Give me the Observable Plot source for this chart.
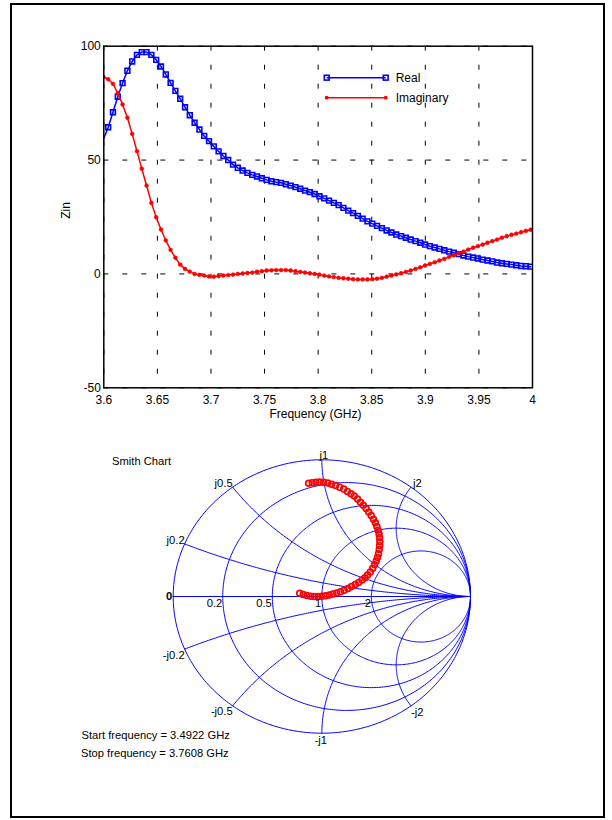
<!DOCTYPE html>
<html>
<head>
<meta charset="utf-8">
<script src="https://cdn.jsdelivr.net/npm/d3@7"></script>
<script src="https://cdn.jsdelivr.net/npm/@observablehq/plot@0.6"></script>
<style>
html, body { margin: 0; padding: 0; background: #fff; }
#page { position: relative; width: 612px; height: 820px; font-family: "Liberation Sans", Arial, sans-serif; overflow: hidden; }
#border { position: absolute; left: 10px; top: 3px; width: 591px; height: 811px; border: 2px solid #000; box-sizing: content-box; }
.layer { position: absolute; left: 0; }
</style>
</head>
<body>
<div id="page"><div id="border"></div></div>
<script>
// ---------------- DATA ----------------
// Frequency sweep (GHz): uniform instrument sweep
const sweepStart = 3.5996;
const sweepStep = 0.00448;

// Zin real part (ohm)
const realZ = [59.0, 64.4, 71.0, 77.8, 83.8, 89.2, 93.3, 96.2, 97.4, 97.4, 96.2, 94.0, 91.1, 87.6, 83.9, 80.4, 76.9, 73.2, 69.7, 66.4,
  63.4, 60.6, 58.3, 56.0, 53.8, 51.8, 50.0, 48.0, 46.6, 45.4, 44.4, 43.5, 42.8, 42.0, 41.3, 40.7, 40.3, 40.0, 39.4, 38.8,
  38.1, 37.4, 36.6, 35.9, 35.1, 34.1, 33.2, 32.2, 31.2, 30.2, 29.0, 27.8, 26.7, 25.5, 24.3, 23.1, 22.1, 21.1, 20.1, 19.1,
  18.2, 17.3, 16.6, 15.9, 15.1, 14.4, 13.7, 12.9, 12.2, 11.6, 11.0, 10.4, 9.8, 9.3, 8.7, 8.1, 7.6, 7.2, 6.8, 6.3,
  5.9, 5.5, 5.0, 4.7, 4.4, 4.1, 3.8, 3.5, 3.4, 3.2];

// Zin imaginary part (ohm)
const imagZ = [86.6, 85.5, 83.5, 79.4, 74.4, 68.6, 61.5, 53.9, 46.2, 38.8, 31.2, 24.9, 19.5, 14.7, 10.6, 7.1, 4.1, 2.2, 1.0, 0.0,
  -0.4, -0.7, -1.1, -1.2, -0.9, -0.7, -0.5, -0.3, 0.0, 0.2, 0.4, 0.6, 1.0, 1.2, 1.5, 1.6, 1.7, 1.7, 1.7, 1.5,
  1.2, 0.9, 0.6, 0.3, 0.0, -0.3, -0.7, -1.1, -1.4, -1.7, -1.9, -2.1, -2.3, -2.4, -2.4, -2.4, -2.3, -2.1, -1.7, -1.2,
  -0.7, -0.2, 0.3, 0.9, 1.5, 2.2, 2.9, 3.7, 4.4, 5.1, 5.9, 6.6, 7.5, 8.2, 9.1, 9.8, 10.7, 11.5, 12.2, 12.9,
  13.7, 14.4, 15.1, 15.9, 16.6, 17.2, 17.7, 18.3, 18.9, 19.4];

const xTicks = [3.6, 3.65, 3.7, 3.75, 3.8, 3.85, 3.9, 3.95, 4];
const xTickLabels = ["3.6", "3.65", "3.7", "3.75", "3.8", "3.85", "3.9", "3.95", "4"];
const yTicks = [-50, 0, 50, 100];
const yTickLabels = ["-50", "0", "50", "100"];
const seriesNames = ["Real", "Imaginary"];
const seriesColors = ["#0000ff", "#ff0000"];

// Smith chart reflection coefficient trace (Re Γ, Im Γ)
const gammaRe = [-0.089, -0.065, -0.040, -0.015, 0.012, 0.040, 0.066, 0.092, 0.120, 0.147, 0.172, 0.196, 0.218, 0.240,
  0.260, 0.279, 0.298, 0.315, 0.332, 0.347, 0.360, 0.370, 0.378, 0.385, 0.388, 0.390, 0.389, 0.386, 0.381, 0.374,
  0.366, 0.355, 0.342, 0.326, 0.308, 0.290, 0.270, 0.248, 0.225, 0.200, 0.175, 0.150, 0.125, 0.100, 0.075, 0.050,
  0.025, 0.000, -0.025, -0.050, -0.075, -0.100, -0.125, -0.149];
const gammaIm = [0.829, 0.833, 0.836, 0.837, 0.836, 0.830, 0.822, 0.812, 0.800, 0.786, 0.769, 0.752, 0.735, 0.713,
  0.690, 0.667, 0.643, 0.618, 0.592, 0.565, 0.540, 0.512, 0.485, 0.457, 0.430, 0.400, 0.372, 0.343, 0.313, 0.286,
  0.259, 0.232, 0.206, 0.180, 0.157, 0.137, 0.120, 0.103, 0.088, 0.073, 0.059, 0.046, 0.035, 0.026, 0.018, 0.011,
  0.005, 0.001, 0.000, 0.000, 0.002, 0.007, 0.015, 0.024];

// Smith chart grid
const resistanceValues = [0, 0.2, 0.5, 1, 2];
const resistanceLabels = ["0", "0.2", "0.5", "1", "2"];
const reactanceValues = [0.2, 0.5, 1, 2];
const reactanceLabels = ["j0.2", "j0.5", "j1", "j2"];
const negReactanceLabels = ["-j0.2", "-j0.5", "-j1", "-j2"];

const smithTitle = "Smith Chart";
const startText = "Start frequency = 3.4922 GHz";
const stopText = "Stop frequency = 3.7608 GHz";

// ---------------- BUILD ----------------
const FONT = "Liberation Sans, Arial, sans-serif";
const page = document.getElementById("page");

const rows = realZ.map((v, i) => ({f: sweepStart + i * sweepStep, re: v, im: imagZ[i]}));

const topChart = Plot.plot({
  width: 612, height: 440,
  marginLeft: 103.3, marginRight: 80, marginTop: 45.7, marginBottom: 52.7,
  style: {fontFamily: FONT, fontSize: "12px", background: "transparent", color: "#000", overflow: "visible"},
  x: {domain: [3.6, 4]},
  y: {domain: [-50, 100]},
  marks: [
    Plot.gridX(xTicks, {stroke: "#000", strokeOpacity: 1, strokeWidth: 1, strokeDasharray: "5,14"}),
    Plot.gridY(yTicks, {stroke: "#000", strokeOpacity: 1, strokeWidth: 1, strokeDasharray: "5,14"}),
    Plot.axisX(xTicks, {tickSize: 0, tickPadding: 7.5, label: null, fontSize: 12,
      tickFormat: d => xTickLabels[xTicks.indexOf(d)]}),
    Plot.axisY(yTicks, {tickSize: 0, tickPadding: 3, label: null, fontSize: 12,
      tickFormat: d => yTickLabels[yTicks.indexOf(d)]}),
    Plot.line(rows, {x: "f", y: "re", stroke: seriesColors[0], strokeWidth: 1.5, clip: true}),
    Plot.dot(rows.filter(d => d.f >= 3.6), {x: "f", y: "re", symbol: "square", r: 2.7, stroke: seriesColors[0], strokeWidth: 1.6, fill: "none", clip: true}),
    Plot.line(rows, {x: "f", y: "im", stroke: seriesColors[1], strokeWidth: 1.5, clip: true}),
    Plot.dot(rows, {x: "f", y: "im", r: 1.9, fill: seriesColors[1], stroke: seriesColors[1], strokeWidth: 0.6, clip: true}),
    Plot.frame({stroke: "#000", strokeWidth: 1.5}),
    Plot.text(["Zin"], {frameAnchor: "left", dx: -37.6, dy: 1.8, rotate: -90, fontSize: 12, fill: "#000"}),
    Plot.text(["Frequency (GHz)"], {frameAnchor: "bottom", dy: 29.9, dx: -2.7, fontSize: 12, fill: "#000"})
  ]
});
topChart.classList.add("layer");
topChart.style.top = "0px";
page.appendChild(topChart);

// Smith chart grid geometry
const gridRows = [];
resistanceValues.forEach((r, i) => {
  const c = r / (1 + r), rad = 1 / (1 + r);
  for (let s = 0; s <= 360; s++) {
    const a = s * Math.PI / 180;
    gridRows.push({id: "r" + i, gx: c + rad * Math.cos(a), gy: rad * Math.sin(a)});
  }
});
const allReact = [...reactanceValues, ...reactanceValues.map(v => -v)];
allReact.forEach((x, i) => {
  const cy = 1 / x, rad = Math.abs(1 / x);
  const p0 = [(x * x - 1) / (x * x + 1), 2 * x / (x * x + 1)];
  const a0 = Math.atan2(p0[1] - cy, p0[0] - 1);
  const a1 = Math.atan2(-cy, 0);
  let da = a1 - a0;
  while (da > Math.PI) da -= 2 * Math.PI;
  while (da < -Math.PI) da += 2 * Math.PI;
  for (let s = 0; s <= 150; s++) {
    const a = a0 + da * s / 150;
    gridRows.push({id: "x" + i, gx: 1 + rad * Math.cos(a), gy: cy + rad * Math.sin(a)});
  }
});

const resLabelRows = resistanceValues.map((r, i) => ({gx: (r - 1) / (r + 1), gy: 0, t: resistanceLabels[i]}));
const reactRows = reactanceValues.map((x, i) => ({
  gx: (x * x - 1) / (x * x + 1), gy: 2 * x / (x * x + 1), t: reactanceLabels[i], tn: negReactanceLabels[i], x
}));
const smithRows = gammaRe.map((v, i) => ({re: v, im: gammaIm[i]}));

const SF = 11.2;
const smith = Plot.plot({
  width: 612, height: 330,
  marginLeft: 172.7, marginRight: 142, marginTop: 19.3, marginBottom: 37.3,
  style: {fontFamily: FONT, fontSize: SF + "px", background: "transparent", color: "#000", overflow: "visible"},
  x: {domain: [-1, 1], axis: null},
  y: {domain: [-1, 1], axis: null},
  marks: [
    Plot.line(gridRows, {x: "gx", y: "gy", z: "id", stroke: "#0000ff", strokeWidth: 1}),
    Plot.ruleY([0], {stroke: "#0000ff", strokeWidth: 1}),
    Plot.dot(smithRows, {x: "re", y: "im", r: 2.9, stroke: "#ff0000", strokeWidth: 1.7, fill: "none"}),
    // resistance labels
    Plot.text(resLabelRows.filter(d => d.t === "0"), {x: "gx", y: "gy", text: "t", textAnchor: "end", dx: -1, fontWeight: "bold", fontSize: SF, fill: "#000"}),
    Plot.text(resLabelRows.filter(d => d.t !== "0"), {x: "gx", y: "gy", text: "t", textAnchor: "end", lineAnchor: "top", dx: -0.5, dy: 3, fontSize: SF, fill: "#000"}),
    // positive reactance labels
    Plot.text(reactRows.filter(d => d.x < 1), {x: "gx", y: "gy", text: "t", textAnchor: "end", lineAnchor: "bottom", dy: 0, fontSize: SF, fill: "#000"}),
    Plot.text(reactRows.filter(d => d.x === 1), {x: "gx", y: "gy", text: "t", textAnchor: "middle", lineAnchor: "bottom", dx: 2, dy: -0.5, fontSize: SF, fill: "#000"}),
    Plot.text(reactRows.filter(d => d.x > 1), {x: "gx", y: "gy", text: "t", textAnchor: "start", lineAnchor: "bottom", dx: 2, fontSize: SF, fill: "#000"}),
    // negative reactance labels
    Plot.text(reactRows.filter(d => d.x < 1), {x: "gx", y: d => -d.gy, text: "tn", textAnchor: "end", lineAnchor: "top", dy: 1.5, fontSize: SF, fill: "#000"}),
    Plot.text(reactRows.filter(d => d.x === 1), {x: "gx", y: d => -d.gy, text: "tn", textAnchor: "middle", lineAnchor: "top", dx: -1, dy: 2.5, fontSize: SF, fill: "#000"}),
    Plot.text(reactRows.filter(d => d.x > 1), {x: "gx", y: d => -d.gy, text: "tn", textAnchor: "start", lineAnchor: "top", dx: 0, dy: 2, fontSize: SF, fill: "#000"})
  ]
});
smith.classList.add("layer");
smith.style.top = "440px";
page.appendChild(smith);

// Overlay: legend and annotations
const ov = d3.select(page).append("svg")
  .attr("class", "layer").style("top", "0px")
  .attr("width", 612).attr("height", 820)
  .style("pointer-events", "none")
  .attr("font-family", FONT);

const leg = {x0: 326.7, x1: 385.7, y0: 77.7, dy: 20, tx: 395.7};
seriesNames.forEach((name, i) => {
  const y = leg.y0 + i * leg.dy;
  const g = ov.append("g");
  g.append("line").attr("x1", leg.x0).attr("x2", leg.x1).attr("y1", y).attr("y2", y)
    .attr("stroke", seriesColors[i]).attr("stroke-width", 1.5);
  [leg.x0, leg.x1].forEach(x => {
    if (i === 0) {
      g.append("rect").attr("x", x - 2.4).attr("y", y - 2.4).attr("width", 4.8).attr("height", 4.8)
        .attr("fill", "none").attr("stroke", seriesColors[i]).attr("stroke-width", 1.6);
    } else {
      g.append("circle").attr("cx", x).attr("cy", y).attr("r", 1.9).attr("fill", seriesColors[i]);
    }
  });
  g.append("text").attr("x", leg.tx).attr("y", y).attr("dy", "0.35em")
    .attr("font-size", 12).attr("fill", "#000").text(name);
});

ov.append("text").attr("x", 112).attr("y", 465).attr("font-size", SF).attr("fill", "#000").text(smithTitle);
ov.append("text").attr("x", 81.5).attr("y", 738.5).attr("font-size", SF).attr("fill", "#000").text(startText);
ov.append("text").attr("x", 81).attr("y", 756.5).attr("font-size", SF).attr("fill", "#000").text(stopText);
</script>
</body>
</html>
